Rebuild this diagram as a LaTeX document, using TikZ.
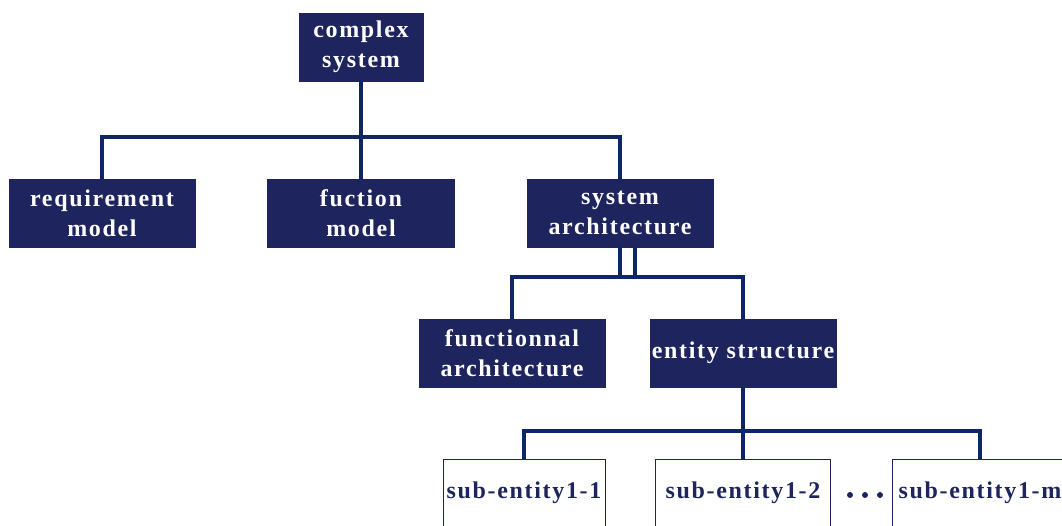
\documentclass[tikz,border=0pt]{standalone}
\usepackage{fontspec}
\setmainfont{Liberation Serif}[LetterSpace=7]
\definecolor{navybox}{RGB}{30,37,94}
\definecolor{navyline}{RGB}{14,38,100}
\begin{document}
\begin{tikzpicture}[x=1pt,y=1pt,
  boxtext/.style={font=\fontsize{24}{30}\selectfont\bfseries},
  darkbox/.style={rectangle, fill=navybox, draw=navybox, text=white,
    minimum height=68pt, inner sep=0pt, align=center, boxtext},
  lightbox/.style={rectangle, fill=white, draw=navybox, line width=0.8pt, text=navybox,
    minimum height=68pt, inner sep=0pt, align=center, boxtext},
  link/.style={draw=navyline, line width=3.2pt, line cap=rect}]
\clip (0,0) rectangle (1062,525);
\useasboundingbox (0,0) rectangle (1062,525);

% top level
\node[darkbox, minimum width=124pt] (cs) at (361,478) {complex\\system};
% second level
\node[darkbox, minimum width=186pt] (rm) at (102,312) {requirement\\model};
\node[darkbox, minimum width=187pt] (fm) at (361,312) {fuction\\model};
\node[darkbox, minimum width=186pt] (sa) at (620,312) {system\\architecture};
% third level
\node[darkbox, minimum width=186pt] (fa) at (512,172) {functionnal\\architecture};
\node[darkbox, minimum width=186pt] (es) at (743,172) {entity structure};
% sub-entities
\node[lightbox, minimum width=162pt] (s1) at (524,32) {sub-entity1-1};
\node[lightbox, minimum width=175pt] (s2) at (743,32) {sub-entity1-2};
\node[lightbox, minimum width=176pt] (sm) at (980,32) {sub-entity1-m};
\foreach \dx in {0,15,30}
  \fill[navybox] (850+\dx,30) circle (3pt);

% bus coordinates
\coordinate (bus1) at (0,388);
\coordinate (bus2) at (0,248);
\coordinate (bus3) at (0,94);
\coordinate (sa2) at ([xshift=15pt]sa.south);

% connectors: complex system
\draw[link] (cs.south) -- (fm.north);
\draw[link] (rm.north) -- (rm.north |- bus1) -- (sa.north |- bus1) -- (sa.north);
% connectors: system architecture (double stem)
\draw[link] (sa.south) -- (sa.south |- bus2);
\draw[link] (sa2) -- (sa2 |- bus2);
\draw[link] (fa.north) -- (fa.north |- bus2) -- (es.north |- bus2) -- (es.north);
% connectors: entity structure
\draw[link] (es.south) -- (s2.north);
\draw[link] (s1.north) -- (s1.north |- bus3) -- (sm.north |- bus3) -- (sm.north);
\end{tikzpicture}
\end{document}
